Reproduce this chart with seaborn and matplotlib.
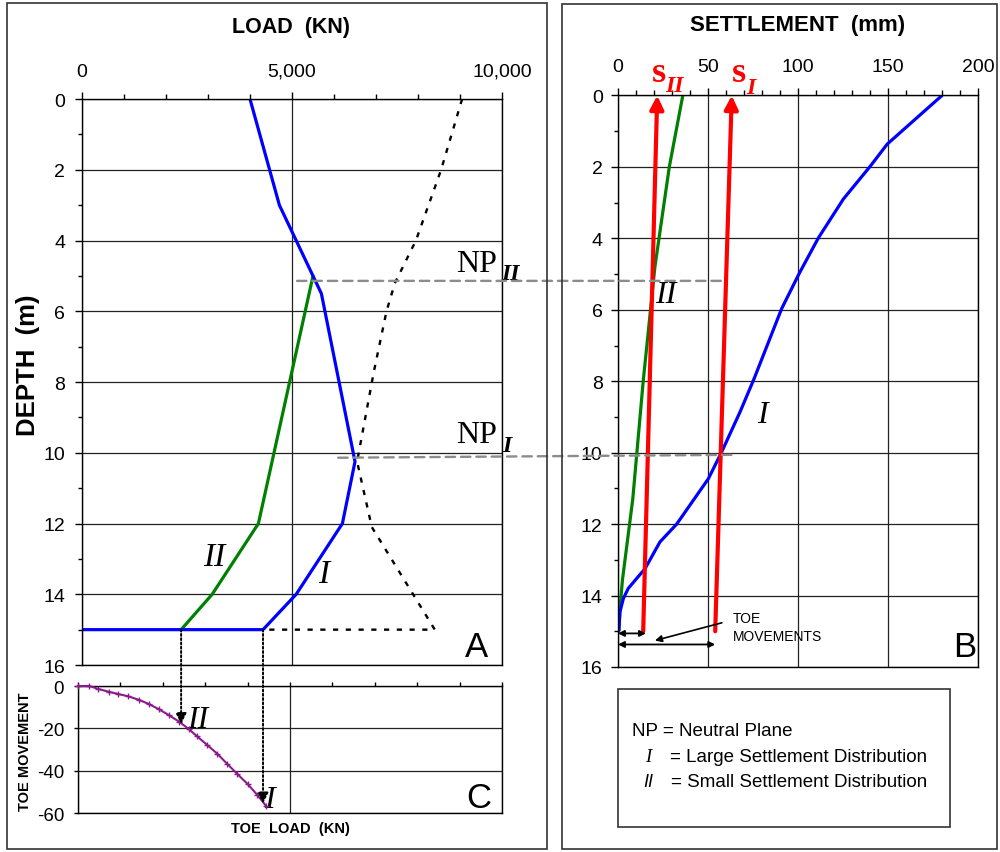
import matplotlib
matplotlib.use("Agg")
import matplotlib.pyplot as plt
import seaborn as sns
from matplotlib.patches import ConnectionPatch, Rectangle
from matplotlib.ticker import FixedLocator, MultipleLocator
from matplotlib.transforms import blended_transform_factory

# ---- Panel A: load (kN) vs depth (m)
load_I = [4000, 4700, 5500, 5700, 6500, 6200, 5100, 4310, 0]
depth_I = [0, 3, 5, 5.5, 10.25, 12, 14, 15, 15]
load_II = [5500, 4200, 3100, 2360]
depth_II = [5, 12, 14, 15]
load_res = [9050, 8550, 7950, 7450, 7250, 6950, 6550, 6900, 8400, 4310]
depth_res = [0, 2, 4, 5.2, 6, 7.7, 10.25, 12.1, 15, 15]

# ---- Panel B: settlement (mm) vs depth (m)
settle_I = [180, 149.6, 140, 125.2, 111.3, 100.6, 90.9, 75.6, 67.8, 57.6,
            50.2, 32.6, 23.3, 15, 10.4, 5.7, 3, 1.1, 0.5]
depth_sI = [0, 1.36, 1.99, 2.9, 3.99, 4.99, 5.97, 7.93, 8.86, 9.98,
            10.73, 12.0, 12.5, 13.25, 13.52, 13.8, 14.08, 14.45, 14.97]
settle_II = [36, 28.5, 20.5, 14, 8.2, 2.5, 1.1, 0.4]
depth_sII = [0, 2, 4.8, 8, 11.3, 13.55, 14.36, 15]
pile_settle_II = [14, 21.8]
pile_settle_I = [54, 63.2]
pile_depth = [15, 0]
toe_move_II = [0, 15.5]
toe_move_I = [0, 54]

# ---- Panel C: toe load (kN) vs toe movement (mm)
toe_load = [0, 270, 480, 720, 955, 1190, 1430, 1670, 1900, 2140,
            2380, 2610, 2810, 3050, 3290, 3520, 3760, 4000, 4230, 4430]
toe_move = [0, 0, -1.4, -2.7, -3.8, -4.9, -6.5, -8.5, -10.9, -13.7,
            -16.8, -20.3, -23.8, -27.9, -32.1, -36.8, -41.6, -46.3, -51.5, -56.5]

# neutral planes (A: load, depth / B: settlement, depth)
np_load = [5120, 6100]
np_depth_a = [5.14, 10.14]
np_settle = [59, 66]
np_depth_b = [5.19, 10.06]
# toe arrows A -> C
toe_corner = [2360, 4310]
toe_tip = [-18, -55.5]

sns.set_theme(style="white")
plt.rcParams["font.family"] = ["Liberation Sans", "DejaVu Sans"]
plt.rcParams["axes.unicode_minus"] = False
plt.rcParams["text.color"] = "black"
plt.rcParams["xtick.color"] = "black"
plt.rcParams["ytick.color"] = "black"
plt.rcParams["xtick.labelcolor"] = "black"
plt.rcParams["ytick.labelcolor"] = "black"
SERIF = ["Liberation Serif", "DejaVu Serif"]
GRID = dict(color="#222222", lw=0.9)

fig = plt.figure(figsize=(10, 8.53), dpi=100)
ax_a = fig.add_axes([0.082, 0.2192, 0.420, 0.6635])
ax_b = fig.add_axes([0.618, 0.2169, 0.360, 0.6700])
ax_c = fig.add_axes([0.078, 0.0457, 0.424, 0.1489])

for ax in (ax_a, ax_b, ax_c):
    for s in ax.spines.values():
        s.set_color("black")
        s.set_linewidth(1.0)

# ---------- A
sns.lineplot(x=load_res, y=depth_res, sort=False, estimator=None, color="black",
             lw=1.7, linestyle=(0, (2.2, 3.2)), ax=ax_a)
sns.lineplot(x=load_II, y=depth_II, sort=False, estimator=None, color="#008000",
             lw=2.3, ax=ax_a)
sns.lineplot(x=load_I, y=depth_I, sort=False, estimator=None, color="#0000ff",
             lw=2.3, ax=ax_a)
ax_a.set_xlim(0, 10000)
ax_a.set_ylim(16, 0)
ax_a.xaxis.tick_top()
ax_a.xaxis.set_major_locator(FixedLocator([0, 5000, 10000]))
ax_a.set_xticklabels(["0", "5,000", "10,000"])
ax_a.xaxis.set_minor_locator(MultipleLocator(1000))
ax_a.yaxis.set_major_locator(MultipleLocator(2))
ax_a.yaxis.set_minor_locator(MultipleLocator(1))
ax_a.tick_params(axis="x", which="major", direction="out", length=5, width=1,
                 labelsize=14, pad=9, top=True, bottom=False)
ax_a.tick_params(axis="x", which="minor", direction="out", length=3.5, width=1,
                 top=True, bottom=False)
ax_a.tick_params(axis="y", which="major", direction="out", length=5, width=1,
                 labelsize=14, pad=7, left=True)
ax_a.tick_params(axis="y", which="minor", direction="out", length=3, width=1,
                 left=True)
ax_a.grid(True, which="major", **GRID)
ax_a.set_xlabel("")
ax_a.set_ylabel("")

ax_a.text(2880, 13.16, "II", family=SERIF, style="italic", fontsize=24, va="baseline")
ax_a.text(5620, 13.64, "I", family=SERIF, style="italic", fontsize=24, va="baseline")
ax_a.text(8900, 4.86, "NP", family=SERIF, fontsize=23, va="baseline", clip_on=False)
ax_a.text(9980, 5.08, "II", family=SERIF, style="italic", weight="bold",
          fontsize=17, va="baseline", clip_on=False)
ax_a.text(8900, 9.69, "NP", family=SERIF, fontsize=23, va="baseline", clip_on=False)
ax_a.text(10000, 9.94, "I", family=SERIF, style="italic", weight="bold",
          fontsize=17, va="baseline", clip_on=False)

# ---------- B
sns.lineplot(x=settle_II, y=depth_sII, sort=False, estimator=None, color="#008000",
             lw=2.3, ax=ax_b)
sns.lineplot(x=settle_I, y=depth_sI, sort=False, estimator=None, color="#0000ff",
             lw=2.3, ax=ax_b)
for xs in (pile_settle_II, pile_settle_I):
    ax_b.annotate("", xy=(xs[1], pile_depth[1]), xytext=(xs[0], pile_depth[0]),
                  arrowprops=dict(arrowstyle="-|>", color="#ff0000", lw=3,
                                  mutation_scale=20, shrinkA=0, shrinkB=0))
ax_b.set_xlim(0, 200)
ax_b.set_ylim(16, 0)
ax_b.xaxis.tick_top()
ax_b.xaxis.set_major_locator(MultipleLocator(50))
ax_b.xaxis.set_minor_locator(MultipleLocator(10))
ax_b.yaxis.set_major_locator(MultipleLocator(2))
ax_b.yaxis.set_minor_locator(MultipleLocator(1))
ax_b.tick_params(axis="x", which="major", direction="out", length=5, width=1,
                 labelsize=14, pad=10, top=True, bottom=False)
ax_b.tick_params(axis="x", which="minor", direction="out", length=3.5, width=1,
                 top=True, bottom=False)
ax_b.tick_params(axis="y", which="major", direction="out", length=5, width=1,
                 labelsize=14, pad=6, left=True)
ax_b.tick_params(axis="y", which="minor", direction="out", length=3, width=1,
                 left=True)
ax_b.grid(True, which="major", **GRID)
ax_b.set_xlabel("")
ax_b.set_ylabel("")

ax_b.text(20.6, 5.78, "II", family=SERIF, style="italic", fontsize=23, va="baseline")
ax_b.text(77.2, 9.13, "I", family=SERIF, style="italic", fontsize=23, va="baseline")
ax_b.text(18.6, -0.41, "s", family=SERIF, weight="bold", color="#ff0000",
          fontsize=26, va="baseline", clip_on=False)
ax_b.text(26.1, -0.13, "II", family=SERIF, weight="bold", style="italic",
          color="#ff0000", fontsize=17, va="baseline", clip_on=False)
ax_b.text(63.0, -0.41, "s", family=SERIF, weight="bold", color="#ff0000",
          fontsize=26, va="baseline", clip_on=False)
ax_b.text(71.1, -0.07, "I", family=SERIF, weight="bold", style="italic",
          color="#ff0000", fontsize=17, va="baseline", clip_on=False)

for xs, d in ((toe_move_II, 15.06), (toe_move_I, 15.37)):
    ax_b.annotate("", xy=(xs[1], d), xytext=(xs[0], d), annotation_clip=False,
                  arrowprops=dict(arrowstyle="<|-|>", color="black", lw=1.3,
                                  mutation_scale=9, shrinkA=0, shrinkB=0))
ax_b.annotate("TOE\nMOVEMENTS", xy=(20.5, 15.26), xytext=(64, 14.42),
              ha="left", va="top", fontsize=10, linespacing=1.45,
              arrowprops=dict(arrowstyle="-|>", color="black", lw=1.2,
                              mutation_scale=10, shrinkA=6, shrinkB=0,
                              relpos=(0, 0.72)))

# ---------- C
sns.lineplot(x=toe_load, y=toe_move, sort=False, estimator=None, color="#8b1a8b",
             lw=1.5, marker="+", markersize=5, markeredgewidth=1,
             markeredgecolor="#8b1a8b", zorder=4, clip_on=False, ax=ax_c)
ax_c.set_xlim(0, 10000)
ax_c.set_ylim(-60, 0)
ax_c.xaxis.set_major_locator(FixedLocator([0, 5000, 10000]))
ax_c.xaxis.set_minor_locator(MultipleLocator(1000))
ax_c.yaxis.set_major_locator(MultipleLocator(20))
ax_c.tick_params(axis="x", which="both", bottom=False, top=True, labelbottom=False,
                 direction="out", length=3, width=1)
ax_c.tick_params(axis="y", which="major", direction="out", length=3, width=1,
                 labelsize=13.5, pad=7, left=True)
ax_c.grid(True, which="major", **GRID)
ax_c.set_xlabel("")
ax_c.set_ylabel("")
ax_c.text(2580, -19.4, "II", family=SERIF, style="italic", fontsize=23, va="baseline")
ax_c.text(4380, -57.2, "I", family=SERIF, style="italic", fontsize=23, va="baseline",
          clip_on=False)

# ---------- connections between panels
for i in range(2):
    fig.add_artist(ConnectionPatch(
        xyA=(np_load[i], np_depth_a[i]), coordsA=ax_a.transData,
        xyB=(np_settle[i], np_depth_b[i]), coordsB=ax_b.transData,
        color="#8c8c8c", lw=1.7, linestyle=(0, (4, 2.5))))
tr_c = blended_transform_factory(ax_a.transData, ax_c.transData)
for x, tip in zip(toe_corner, toe_tip):
    fig.add_artist(ConnectionPatch(
        xyA=(x, 15), coordsA=ax_a.transData, xyB=(x, tip), coordsB=tr_c,
        arrowstyle="-|>", color="black", lw=1.4, linestyle=(0, (1, 1.2)),
        mutation_scale=16, shrinkA=0, shrinkB=0))

# ---------- figure text
fig.text(0.291, 1 - 27 / 853, "LOAD  (KN)", ha="center", va="center",
         fontsize=15.5, weight="bold")
fig.text(0.798, 1 - 26 / 853, "SETTLEMENT  (mm)", ha="center", va="center",
         fontsize=16, weight="bold")
fig.text(0.028, 1 - 365 / 853, "DEPTH  (m)", rotation=90, ha="center",
         va="center", fontsize=18.5, weight="bold")
fig.text(0.025, 1 - 752 / 853, "TOE MOVEMENT", rotation=90, ha="center",
         va="center", fontsize=10.5, weight="bold")
fig.text(0.290, 1 - 829 / 853, "TOE  LOAD  (KN)", ha="center", va="center",
         fontsize=10.5, weight="bold")
fig.text(0.488, 1 - 657 / 853, "A", ha="right", va="baseline", fontsize=25)
fig.text(0.976, 1 - 657 / 853, "B", ha="right", va="baseline", fontsize=25)
fig.text(0.491, 1 - 808 / 853, "C", ha="right", va="baseline", fontsize=25)

fig.text(0.632, 1 - 732 / 853, "NP = Neutral Plane", va="center", fontsize=13.5)
fig.text(0.645, 1 - 758 / 853, "I", family=SERIF, style="italic", va="center",
         fontsize=13.5)
fig.text(0.670, 1 - 758 / 853, "= Large Settlement Distribution", va="center",
         fontsize=13.5)
fig.text(0.643, 1 - 783 / 853, "II", style="italic", va="center", fontsize=13)
fig.text(0.671, 1 - 783 / 853, "= Small Settlement Distribution", va="center",
         fontsize=13.5)

for x0, y0, w, h in ((7, 4, 540, 846), (562, 5, 435, 845), (618, 690, 332, 138)):
    fig.add_artist(Rectangle((x0 / 1000, 1 - (y0 + h) / 853), w / 1000, h / 853,
                             transform=fig.transFigure, fill=False,
                             ec="#333333", lw=1.2))

fig.savefig("out.png", dpi=100)
